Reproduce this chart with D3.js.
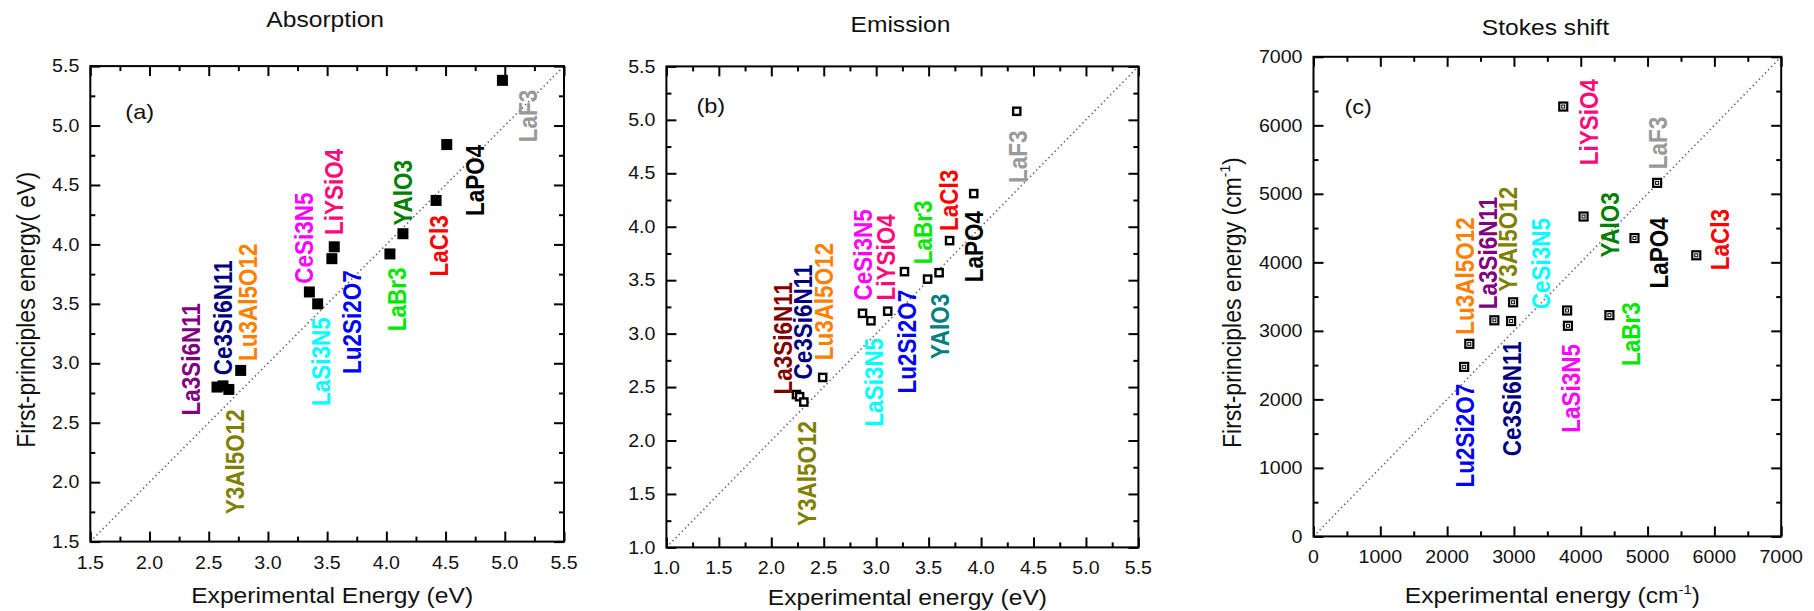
<!DOCTYPE html>
<html>
<head>
<meta charset="utf-8">
<script src="https://cdn.jsdelivr.net/npm/d3@7"></script>
<style>
  html, body { margin: 0; padding: 0; background: #fff; }
  svg { display: block; font-family: "Liberation Sans", Arial, Helvetica, sans-serif; }
</style>
</head>
<body>
<svg id="chart" width="1814" height="611"></svg>
<script>
// Ce3+ doped hosts, same order in every series below
const materials = ["La3Si6N11", "Ce3Si6N11", "Y3Al5O12", "Lu3Al5O12", "CeSi3N5", "LaSi3N5",
                   "Lu2Si2O7", "LiYSiO4", "LaBr3", "YAlO3", "LaCl3", "LaPO4", "LaF3"];

// (a) absorption energies, eV
const absExp  = [2.57, 2.62, 2.67, 2.77, 3.35, 3.42, 3.54, 3.56, 4.03, 4.14, 4.42, 4.51, 4.98];
const absCalc = [2.80, 2.81, 2.78, 2.94, 3.60, 3.50, 3.88, 3.98, 3.92, 4.09, 4.37, 4.84, 5.38];

// (b) emission energies, eV
const emExp  = [2.24, 2.27, 2.31, 2.49, 2.87, 2.95, 3.27, 3.11, 3.49, 3.60, 3.70, 3.93, 4.34];
const emCalc = [2.43, 2.41, 2.36, 2.59, 3.19, 3.12, 3.58, 3.21, 3.51, 3.57, 3.87, 4.31, 5.08];

// (c) Stokes shifts, cm^-1
const stokesExp  = [2707, 2958, 2988, 2332, 3796, 3808, 2255, 3738, 4429, 4042, 5729, 4804, 5143];
const stokesCalc = [3154, 3143, 3417, 2811, 3297, 3074, 2474, 6274, 3229, 4669, 4103, 4354, 5160];

// tick labels
const evTicksA = [1.5, 2.0, 2.5, 3.0, 3.5, 4.0, 4.5, 5.0, 5.5];
const evTicksB = [1.0, 1.5, 2.0, 2.5, 3.0, 3.5, 4.0, 4.5, 5.0, 5.5];
const cmTicks  = [0, 1000, 2000, 3000, 4000, 5000, 6000, 7000];

// name-label anchors (data units: column centre, bottom of rotated text)
const absLabelX = [2.347, 2.617, 2.725, 2.83, 3.30, 3.451, 3.71, 3.553, 4.088, 4.14, 4.443, 4.751, 5.195];
const absLabelY = [2.56, 2.90, 1.73, 3.02, 3.67, 2.64, 2.91, 4.08, 3.27, 4.16, 3.73, 4.24, 4.86];
const emLabelX = [2.112, 2.297, 2.342, 2.50, 2.87, 2.975, 3.292, 3.096, 3.446, 3.612, 3.691, 3.933, 4.351];
const emLabelY = [2.43, 2.57, 1.20, 2.75, 3.31, 2.13, 2.44, 3.31, 3.65, 2.76, 3.96, 3.48, 4.41];
const stLabelX = [2613, 2976, 2917, 2261, 3404, 3855, 2273, 4124, 4757, 4429, 6081, 5173, 5161];
const stLabelY = [3314, 1171, 3571, 2943, 3314, 1514, 714, 5417, 2486, 4069, 3886, 3617, 5360];

// label colours per panel
const absColors = ["#800080", "#000080", "#808000", "#ff8000", "#ff00ff", "#00ffff",
                   "#0000ff", "#ff0a78", "#00e800", "#008000", "#ff0000", "#000000", "#999999"];
const emColors  = ["#800000", "#000080", "#808000", "#ff8000", "#ff00ff", "#00ffff",
                   "#0000ff", "#ff0a78", "#00e800", "#008080", "#ff0000", "#000000", "#999999"];
const stColors  = ["#800080", "#000080", "#808000", "#ff8000", "#00ffff", "#ff00ff",
                   "#0000ff", "#ff0a78", "#00e800", "#008000", "#ff0000", "#000000", "#999999"];

// the lettering of this figure is set slightly wide
const WIDE = 1.12;

const panels = [
  {
    title: "Absorption", tag: "(a)",
    box: { x0: 90.3, x1: 564, y0: 66.1, y1: 541.6 },
    ticks: evTicksA, fmt: d3.format(".1f"),
    xs: absExp, ys: absCalc, lx: absLabelX, ly: absLabelY, colors: absColors,
    marker: "filled",
    titleY: 27, xTitle: ["Experimental Energy (eV)"], xTitleY: 603,
    yTitle: ["First-principles energy( eV)"], yTitleX: 35,
    tagDx: 35, tagDy: 53
  },
  {
    title: "Emission", tag: "(b)",
    box: { x0: 666.4, x1: 1138.4, y0: 66.4, y1: 547.4 },
    ticks: evTicksB, fmt: d3.format(".1f"),
    xs: emExp, ys: emCalc, lx: emLabelX, ly: emLabelY, colors: emColors,
    marker: "open",
    titleY: 32, xTitle: ["Experimental energy (eV)"], xTitleY: 605,
    yTitle: null,
    tagDx: 30, tagDy: 47
  },
  {
    title: "Stokes shift", tag: "(c)",
    box: { x0: 1313.5, x1: 1781.2, y0: 56.8, y1: 536.4 },
    ticks: cmTicks, fmt: d3.format("d"),
    xs: stokesExp, ys: stokesCalc, lx: stLabelX, ly: stLabelY, colors: stColors,
    marker: "dotted",
    titleY: 35, xTitle: ["Experimental energy (cm", "-1", ")"], xTitleY: 603,
    yTitle: ["First-principles energy (cm", "-1", ")"], yTitleX: 1241,
    tagDx: 31, tagDy: 57
  }
];

const svg = d3.select("#chart");

// writes "text(sup)text" into a text element
function richText(sel, parts, fs) {
  sel.append("tspan").text(parts[0]);
  if (parts.length > 1) {
    sel.append("tspan").attr("font-size", fs * 0.6).attr("dy", -fs * 0.42).text(parts[1]);
    sel.append("tspan").attr("dy", fs * 0.42).text(parts[2]);
  }
}

// horizontal text, widened about its anchor
function wideText(g, x, y, fs, anchor) {
  return g.append("text")
    .attr("transform", `translate(${x},${y}) scale(${WIDE},1)`)
    .attr("text-anchor", anchor).attr("font-size", fs).attr("fill", "#111");
}

panels.forEach(p => {
  const b = p.box;
  const dom = [p.ticks[0], p.ticks[p.ticks.length - 1]];
  const x = d3.scaleLinear().domain(dom).range([b.x0, b.x1]);
  const y = d3.scaleLinear().domain(dom).range([b.y1, b.y0]);
  const minor = p.ticks.slice(1).map((t, i) => (t + p.ticks[i]) / 2);

  const g = svg.append("g");

  // y = x reference
  g.append("line")
    .attr("x1", x(dom[0])).attr("y1", y(dom[0]))
    .attr("x2", x(dom[1])).attr("y2", y(dom[1]))
    .attr("stroke", "#666").attr("stroke-width", 1.6)
    .attr("stroke-dasharray", "1.4 3.0");

  // inward ticks on all four sides
  const sides = [
    { make: () => d3.axisBottom(x), tr: `translate(0,${b.y1})` },
    { make: () => d3.axisTop(x),    tr: `translate(0,${b.y0})` },
    { make: () => d3.axisLeft(y),   tr: `translate(${b.x0},0)` },
    { make: () => d3.axisRight(y),  tr: `translate(${b.x1},0)` }
  ];
  sides.forEach(s => {
    [[p.ticks, -10], [minor, -5]].forEach(([vals, size]) => {
      const ga = g.append("g").attr("transform", s.tr)
        .call(s.make().tickValues(vals).tickSizeOuter(0).tickSize(size).tickFormat(""));
      ga.select(".domain").remove();
      ga.selectAll("text").remove();
      ga.selectAll("line").attr("stroke-width", 2);
    });
  });

  // tick labels
  const tl = g.append("g");
  p.ticks.forEach(t => {
    wideText(tl, x(t), b.y1 + 27, 17.5, "middle").text(p.fmt(t));
    wideText(tl, b.x0 - 11, y(t) + 6.2, 17.5, "end").text(p.fmt(t));
  });

  // frame
  g.append("rect")
    .attr("x", b.x0).attr("y", b.y0)
    .attr("width", b.x1 - b.x0).attr("height", b.y1 - b.y0)
    .attr("fill", "none").attr("stroke", "#000").attr("stroke-width", 2);

  // markers
  const pts = p.xs.map((v, i) => ({ x: v, y: p.ys[i], name: materials[i] }));
  const mg = g.append("g");
  if (p.marker === "filled") {
    mg.selectAll("rect").data(pts).join("rect")
      .attr("x", d => x(d.x) - 5.5).attr("y", d => y(d.y) - 5.5)
      .attr("width", 11).attr("height", 11).attr("fill", "#000");
  } else if (p.marker === "open") {
    mg.selectAll("rect").data(pts).join("rect")
      .attr("x", d => x(d.x) - 3.6).attr("y", d => y(d.y) - 3.6)
      .attr("width", 7.2).attr("height", 7.2)
      .attr("fill", "#fff").attr("stroke", "#000").attr("stroke-width", 2.4);
  } else {
    mg.selectAll("rect.outer").data(pts).join("rect").attr("class", "outer")
      .attr("x", d => x(d.x) - 4).attr("y", d => y(d.y) - 4)
      .attr("width", 8).attr("height", 8)
      .attr("fill", "#fff").attr("stroke", "#000").attr("stroke-width", 2.2);
    mg.selectAll("rect.inner").data(pts).join("rect").attr("class", "inner")
      .attr("x", d => x(d.x) - 1.5).attr("y", d => y(d.y) - 1.5)
      .attr("width", 3).attr("height", 3)
      .attr("fill", "none").attr("stroke", "#000").attr("stroke-width", 1);
  }

  // rotated host names
  const labels = materials.map((m, i) => ({ name: m, x: p.lx[i], y: p.ly[i], c: p.colors[i] }));
  g.append("g").selectAll("text").data(labels).join("text")
    .attr("transform", d => `translate(${x(d.x)},${y(d.y)}) scale(${WIDE},1) rotate(-90)`)
    .attr("dy", "0.36em")
    .attr("font-size", 22.5).attr("font-weight", "bold")
    .attr("fill", d => d.c)
    .text(d => d.name);

  // panel tag
  wideText(g, b.x0 + p.tagDx, b.y0 + p.tagDy, 21, "start").text(p.tag);

  // panel title
  wideText(g, (b.x0 + b.x1) / 2 - 2, p.titleY, 22, "middle").text(p.title);

  // x-axis title
  const xt = wideText(g, (b.x0 + b.x1) / 2 + 5, p.xTitleY, 22, "middle");
  richText(xt, p.xTitle, 22);

  // y-axis title
  if (p.yTitle) {
    const yt = g.append("text")
      .attr("transform", `translate(${p.yTitleX},${(b.y0 + b.y1) / 2 + 6}) scale(${WIDE},1) rotate(-90)`)
      .attr("text-anchor", "middle").attr("font-size", 23).attr("fill", "#111");
    richText(yt, p.yTitle, 23);
  }
});
</script>
</body>
</html>
